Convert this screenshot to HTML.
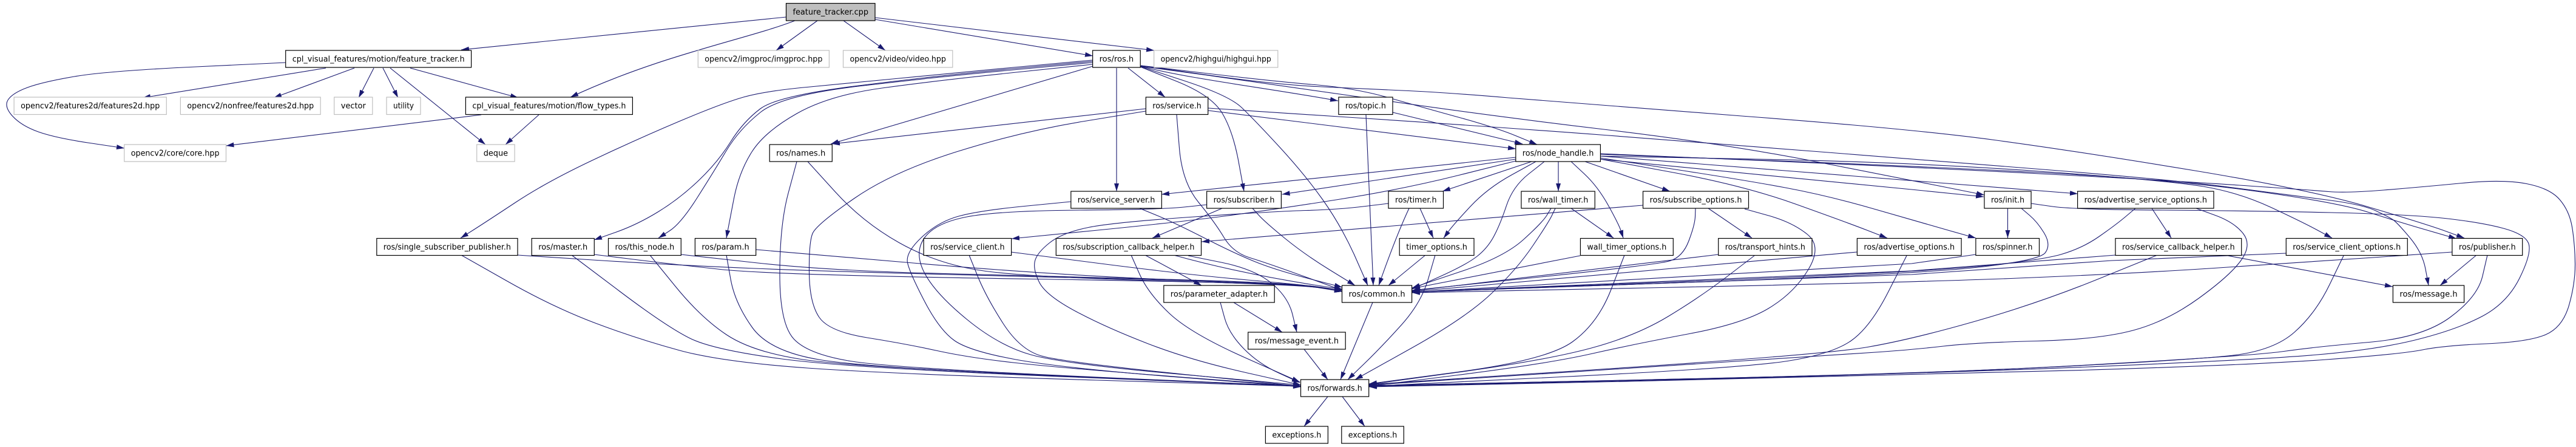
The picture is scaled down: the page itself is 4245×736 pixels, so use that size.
<!DOCTYPE html>
<html><head><meta charset="utf-8"><title>feature_tracker.cpp include graph</title>
<style>html,body{margin:0;padding:0;background:#fff}svg{display:block}
.n rect{fill:#fff;stroke:#000;stroke-width:1.2}
.g rect{fill:#fff;stroke:#bfbfbf;stroke-width:1.2}
text{font-family:"DejaVu Sans","Liberation Sans",sans-serif;font-size:13px;fill:#000}
</style></head><body>
<svg xmlns="http://www.w3.org/2000/svg" width="4245" height="736" viewBox="0 0 4245 736">
<defs><marker id="a" viewBox="0 0 13 8" refX="13" refY="4" markerWidth="13" markerHeight="8" markerUnits="userSpaceOnUse" orient="auto"><path d="M0,0L13,4L0,8z" fill="#191970"/></marker></defs>
<rect width="4245" height="736" fill="#fff"/>
<g fill="none" stroke="#191970" stroke-width="1.1" marker-end="url(#a)">
<path d="M1296,28L760,82"/><path d="M1310,34C1230,65 1090,90 940,160"/><path d="M1347,34L1279,83"/><path d="M1390,34L1459,83"/><path d="M1442,32L1801,92"/><path d="M1442,29L1902,83"/>
<path d="M537,112L235,161"/><path d="M584,112L451,161"/><path d="M616,112L591,161"/><path d="M631,112L656,161"/><path d="M643,112L800,238"/><path d="M676,112L854,161"/><path d="M793,189L372.5,240"/><path d="M888,189L833,238"/>
<path d="M471,103L323,110Q175,117 122.5,126Q70,135 45.5,144Q21,153 13.5,164Q6,175 20.5,191Q35,207 63,217Q91,227 148,235.5L205,244"/>
<path d="M1800,99L1670,111Q1541,123 1471,130Q1401,137 1330,143.5Q1260,150 1225,160Q1190,170 1120,199.5Q1050,229 975,264.5Q900,300 850,333Q800,366 779.5,379L759,392"/>
<path d="M1800,101L1670,113Q1541,125 1411,141.5Q1281,158 1253,179Q1225,200 1204,233.5Q1183,267 1151.5,297Q1120,327 1085,348.5Q1050,370 1014.5,382.5L979,395"/>
<path d="M1800,103L1670,115Q1541,127 1414.5,142Q1288,157 1253,185Q1218,213 1197,248Q1176,283 1149,325.5Q1122,368 1103.5,380L1085,392"/>
<path d="M1800,106L1670,119.5Q1541,133 1453.5,145Q1366,157 1313,187Q1260,217 1239,250Q1218,283 1209.5,326.5Q1201,370 1199,381L1197,392"/>
<path d="M1801,109L1369,237"/><path d="M1840,112L1840,315"/><path d="M1859,112L1920,160"/>
<path d="M1879,110L1938,133.5Q1997,157 2014.5,187Q2032,217 2041,266L2050,315"/>
<path d="M1878,109L1951.5,133Q2025,157 2046,177Q2067,197 2108.5,242Q2150,287 2179.5,328.5Q2209,370 2231.5,419L2254,470"/>
<path d="M1880,109C1960,130 2090,145 2205,166"/>
<path d="M1880,108L1990,121Q2100,134 2166.5,139.5Q2233,145 2289,161Q2345,177 2405,193.5Q2465,210 2499,224L2533,238"/>
<path d="M1880,109L1990,124Q2100,139 2275,164.5Q2450,190 2647,213.5Q2844,237 2997,267Q3150,297 3210,309L3270,321"/>
<path d="M1880,108L1990,123.5Q2100,139 2170,142.5Q2240,146 2310,149Q2380,152 2485.5,161Q2591,170 2870,191Q3150,212 3290,231Q3430,250 3620,281.5Q3809,313 3902,340.5Q3995,368 4028.5,380L4061,392"/>
<path d="M1991,178L2221,193Q2451,208 2644,222.5Q2837,237 2993.5,249.5Q3150,262 3360.5,278.5Q3571,295 3676,308.5Q3781,322 3837.5,329.5Q3894,337 3915,347Q3936,357 3943,361.5Q3950,366 3971,391Q3992,416 3997,443L4002,470"/>
<path d="M1888,179L1371,237"/><path d="M1991,182L2498,245"/><path d="M2295,185L2509,237"/><path d="M2251,189L2263,470"/>
<path d="M2498,259L1914,320"/><path d="M2498,262L2112.6,320"/><path d="M2524,266L2377,315"/><path d="M2568,266L2568,315"/><path d="M2612,266L2752,315"/>
<path d="M2637,254L2893.5,263.5Q3150,273 3360.5,284Q3571,295 3711,314Q3851,333 3903,349.5Q3955,366 4001.5,379.5L4048,393"/>
<path d="M2637,257L2893.5,262Q3150,267 3360.5,282Q3571,297 3630.5,307Q3690,317 3742.5,341.5Q3795,366 3819,379L3843,392"/>
<path d="M2637,253L2893.5,264Q3150,275 3360.5,286Q3571,297 3690,305Q3809,313 3837.5,315.5Q3866,318 3928,313Q3990,308 4057.5,301.5Q4125,295 4163.5,302.5Q4202,310 4218,328.5Q4234,347 4238.5,373.5Q4243,400 4243.5,433Q4244,466 4233.5,502.5Q4223,539 4195,551Q4167,563 4097,566Q4027,569 3992,576Q3957,583 3834,592Q3711,601 3430.5,609.5Q3150,618 2703,627.5L2256,637"/>
<path d="M2637,262L2754.5,283.5Q2872,305 2957.5,335.5Q3043,366 3076.5,379L3110,392"/>
<path d="M2637,260L2754.5,278Q2872,296 2942,309Q3012,322 3088,344Q3164,366 3210,379L3256,392"/>
<path d="M2637,262L3150,312L3269,324"/><path d="M2637,257L3424,319"/>
<path d="M2531,266L2491,288Q2451,310 2423,340Q2395,370 2387,381L2379,392"/>
<path d="M2545,266L2519,286.5Q2493,307 2482.5,338.5Q2472,370 2461.5,389.5Q2451,409 2433.5,422.5Q2416,436 2371.5,456L2327,476"/>
<path d="M2589,266L2611,286.5Q2633,307 2650.5,338.5Q2668,370 2671.5,381L2675,392"/>
<path d="M2498,265L2404,288.5Q2310,312 2205,328.5Q2100,345 2020.5,355.5Q1941,366 1804,379.5L1667,393"/>
<path d="M1888,183L1784.5,200Q1681,217 1576,250Q1471,283 1408,326.5Q1345,370 1339,384.5Q1333,399 1333.5,449Q1334,499 1350,522.5Q1366,546 1429,556Q1492,566 1544.5,577.5Q1597,589 1674,597.5Q1751,606 1947.5,621L2144,636"/>
<path d="M1939,189L1943.5,244.5Q1948,300 1975,333Q2002,366 2017,391Q2032,416 2060,424.5Q2088,433 2150,455.5L2212,478"/>
<path d="M1765,332L1688,339.5Q1611,347 1578,356.5Q1545,366 1518.5,391Q1492,416 1495.5,432.5Q1499,449 1523.5,496Q1548,543 1572.5,560.5Q1597,578 1674,592Q1751,606 1947.5,621.5L2144,637"/>
<path d="M1989,337L1951,341Q1913,345 1779.5,346Q1646,347 1593.5,357Q1541,367 1523.5,391.5Q1506,416 1523.5,449.5Q1541,483 1593.5,526Q1646,569 1698.5,584Q1751,599 1947.5,616.5L2144,634"/>
<path d="M2288,335L2246.5,340Q2205,345 2152.5,346.5Q2100,348 1968,357Q1836,366 1793.5,374.5Q1751,383 1730,399.5Q1709,416 1705.5,429.5Q1702,443 1712.5,464.5Q1723,486 1772.5,512.5Q1822,539 1892,566Q1962,593 2053,613.5L2144,634"/>
<path d="M1878,343L1906,354.5Q1934,366 1983,391Q2032,416 2066,430Q2100,444 2156,458.5L2212,473"/>
<path d="M2064,343L2074.5,354.5Q2085,366 2117.5,392.5Q2150,419 2191.5,444.5L2233,470"/>
<path d="M2014,343L1899,392"/><path d="M2707,338L1980,398"/><path d="M1887,420L1980,470"/><path d="M2033,498L2113,547"/><path d="M2149,575L2188,625"/><path d="M2262,498L2209,625"/><path d="M2188,653L2149,702"/><path d="M2212,653L2249,702"/>
<path d="M2322,343Q2300,390 2272,470"/><path d="M2340,343L2362,392"/><path d="M2349,420L2288,470"/>
<path d="M2815,343L2887,392"/><path d="M3308.5,343L3308.5,392"/><path d="M3546,343L3578,392"/><path d="M3666,420L3943,472"/><path d="M4081,420L4021,470"/><path d="M2589,343L2659,392"/>
<path d="M1666,415L1814,434Q1962,453 2056,461Q2150,469 2181,473.5L2212,478"/>
<path d="M1597,420L1611,454.5Q1625,489 1653,532.5Q1681,576 1716,586Q1751,596 1947.5,616L2144,636"/>
<path d="M1864,420L1878,451.5Q1892,483 1927,516Q1962,549 2052,589L2142,629"/>
<path d="M1934,420Q2060,455 2212,476"/>
<path d="M1958,421L2012.5,432Q2067,443 2095,466Q2123,489 2130,518L2137,547"/>
<path d="M2011,498L2018,523.5Q2025,549 2049.5,574Q2074,599 2108,614.5L2142,630"/>
<path d="M2556,343L2549,354.5Q2542,366 2510.5,394.5Q2479,423 2410.5,446L2327,474"/>
<path d="M2563,343L2557.5,354.5Q2552,366 2526,404.5Q2500,443 2458,483Q2416,523 2324.5,574L2233,625"/>
<path d="M2365,420L2353.5,459.5Q2342,499 2308.5,536Q2275,573 2248,599L2221,625"/>
<path d="M2604,421L2327,475"/>
<path d="M2677,420L2655,476.5Q2633,533 2591,563Q2549,593 2402.5,612.5L2256,632"/>
<path d="M2794,343L2793.5,356.5Q2793,370 2783,396.5Q2773,423 2752,429.5Q2731,436 2529,457L2327,478"/>
<path d="M2875,344L2914.5,355Q2954,366 2978.5,386Q3003,406 2979.5,444.5Q2956,483 2914,508Q2872,533 2784,549.5Q2696,566 2622.5,582.5Q2549,599 2402.5,617.5L2256,636"/>
<path d="M2832,419L2327,479"/>
<path d="M2891,421L2846.5,455Q2802,489 2749,521Q2696,553 2622.5,573Q2549,593 2402.5,613L2256,633"/>
<path d="M3060,415L2327,480"/>
<path d="M3142,421L3112,480Q3082,539 3050.5,561Q3019,583 2945.5,594.5Q2872,606 2564,621L2256,636"/>
<path d="M3256,419L3150,434L2327,481"/>
<path d="M3519,343L3503,356.5Q3487,370 3459,389.5Q3431,409 3396,419Q3361,429 3255.5,439Q3150,449 2738.5,465L2327,481"/>
<path d="M3619,343L3650.5,354.5Q3682,366 3696.5,384.5Q3711,403 3693.5,428Q3676,453 3623.5,491Q3571,529 3515,544Q3459,559 3357,561.5Q3255,564 3202.5,570Q3150,576 3098.5,579.5Q3047,583 2651.5,608.5L2256,634"/>
<path d="M3486,420L3150,446L2327,481"/>
<path d="M3555,420L3457.5,459.5Q3360,499 3255,529Q3150,559 3077.5,571.5Q3005,584 2630.5,608.5L2256,633"/>
<path d="M3331,343L3344.5,354.5Q3358,366 3369,384.5Q3380,403 3370.5,416Q3361,429 3255.5,440.5Q3150,452 2738.5,466.5L2327,481"/>
<path d="M3347,335L3382,340Q3417,345 3564,346Q3711,347 3841,350Q3971,353 4029,359.5Q4087,366 4123.5,375.5Q4160,385 4166.5,400Q4173,415 4152.5,457Q4132,499 4090,521Q4048,543 3981.5,559.5Q3915,576 3813,584.5Q3711,593 3430.5,604.5Q3150,616 2703,625.5L2256,635"/>
<path d="M3767,417L3480,429L3150,452L2327,481"/>
<path d="M3862,421L3839,468.5Q3816,516 3781,547Q3746,578 3676,585.5Q3606,593 3378,604.5Q3150,616 2703,625.5L2256,635"/>
<path d="M4041,415L3911,424Q3781,433 3641,442Q3501,451 3325.5,458Q3150,465 2738.5,473.5L2327,482"/>
<path d="M4099,420L4091,454.5Q4083,489 4037.5,522.5Q3992,556 3904,563.5Q3816,571 3763.5,578.5Q3711,586 3430.5,601.5Q3150,617 2703,626.5L2256,636"/>
<path d="M1331,266L1376.5,316Q1422,366 1481.5,399.5Q1541,433 1611,444.5Q1681,456 1915.5,462.5Q2150,469 2181,474.5L2212,480"/>
<path d="M853,420L976.5,428Q1100,436 1243.5,442Q1387,448 1762,457Q2137,466 2174.5,473L2212,480"/>
<path d="M979,419L1039.5,426.5Q1100,434 1187,443.5Q1274,453 1705.5,459.5Q2137,466 2174.5,473L2212,480"/>
<path d="M1122,419L1244,432.5Q1366,446 1558.5,450.5Q1751,455 1944,460.5Q2137,466 2174.5,473L2212,480"/>
<path d="M1246,411L1498.5,432.5Q1751,454 1944,461Q2137,468 2174.5,474L2212,480"/>
<path d="M760,420L836,463Q912,506 981,532Q1050,558 1120,577Q1190,596 1330.5,606Q1471,616 1807.5,626L2144,636"/>
<path d="M942,420L1021,479.5Q1100,539 1138,557.5Q1176,576 1288.5,591Q1401,606 1772.5,621L2144,636"/>
<path d="M1071,420L1113,471.5Q1155,523 1197,551Q1239,579 1320,591.5Q1401,604 1772.5,620L2144,636"/>
<path d="M1197,420L1204,459.5Q1211,499 1239.5,539Q1268,579 1352,592.5Q1436,606 1790,621L2144,636"/>
<path d="M1313,266L1299,318Q1285,370 1285,451.5Q1285,533 1308,558Q1331,583 1401,594.5Q1471,606 1807.5,621L2144,636"/>
</g>
<g class="n">
<rect x="1295.5" y="5.5" width="146.5" height="28.5" style="fill:#bfbfbf"/><text x="1306.5" y="24" textLength="124.5" lengthAdjust="spacingAndGlyphs">feature_tracker.cpp</text>
<rect x="470.7" y="83" width="305.9" height="28"/><text x="481.7" y="101.5" textLength="283.9" lengthAdjust="spacingAndGlyphs">cpl_visual_features/motion/feature_tracker.h</text>
<rect x="1800.6" y="83" width="78.6" height="28"/><text x="1811.6" y="101.5" textLength="56.6" lengthAdjust="spacingAndGlyphs">ros/ros.h</text>
<rect x="767.4" y="160" width="275" height="28.5"/><text x="778.4" y="178.5" textLength="253" lengthAdjust="spacingAndGlyphs">cpl_visual_features/motion/flow_types.h</text>
<rect x="1888.3" y="160" width="102.4" height="28.5"/><text x="1899.3" y="178.5" textLength="80.4" lengthAdjust="spacingAndGlyphs">ros/service.h</text>
<rect x="2205.9" y="160" width="89.1" height="28.5"/><text x="2216.9" y="178.5" textLength="67.1" lengthAdjust="spacingAndGlyphs">ros/topic.h</text>
<rect x="1268.2" y="238" width="103.1" height="28"/><text x="1279.2" y="256.5" textLength="81.1" lengthAdjust="spacingAndGlyphs">ros/names.h</text>
<rect x="2497.8" y="238" width="139.6" height="28"/><text x="2508.8" y="256.5" textLength="117.6" lengthAdjust="spacingAndGlyphs">ros/node_handle.h</text>
<rect x="1764.8" y="315" width="149.5" height="28"/><text x="1775.8" y="333.5" textLength="127.5" lengthAdjust="spacingAndGlyphs">ros/service_server.h</text>
<rect x="1988.6" y="315" width="122.8" height="28"/><text x="1999.6" y="333.5" textLength="100.8" lengthAdjust="spacingAndGlyphs">ros/subscriber.h</text>
<rect x="2288" y="315" width="90.5" height="28"/><text x="2299" y="333.5" textLength="68.5" lengthAdjust="spacingAndGlyphs">ros/timer.h</text>
<rect x="2506.9" y="315" width="121.3" height="28"/><text x="2517.9" y="333.5" textLength="99.3" lengthAdjust="spacingAndGlyphs">ros/wall_timer.h</text>
<rect x="2707.5" y="315" width="174" height="28"/><text x="2718.5" y="333.5" textLength="152" lengthAdjust="spacingAndGlyphs">ros/subscribe_options.h</text>
<rect x="3270" y="315" width="77.1" height="28"/><text x="3281" y="333.5" textLength="55.1" lengthAdjust="spacingAndGlyphs">ros/init.h</text>
<rect x="3423.6" y="315" width="224.4" height="28"/><text x="3434.6" y="333.5" textLength="202.4" lengthAdjust="spacingAndGlyphs">ros/advertise_service_options.h</text>
<rect x="620.8" y="392.5" width="232.2" height="28"/><text x="631.8" y="411" textLength="210.2" lengthAdjust="spacingAndGlyphs">ros/single_subscriber_publisher.h</text>
<rect x="876.2" y="392.5" width="103.1" height="28"/><text x="887.2" y="411" textLength="81.1" lengthAdjust="spacingAndGlyphs">ros/master.h</text>
<rect x="1002.5" y="392.5" width="119.8" height="28"/><text x="1013.5" y="411" textLength="97.8" lengthAdjust="spacingAndGlyphs">ros/this_node.h</text>
<rect x="1145.4" y="392.5" width="100.3" height="28"/><text x="1156.4" y="411" textLength="78.3" lengthAdjust="spacingAndGlyphs">ros/param.h</text>
<rect x="1522.1" y="392.5" width="144.5" height="28"/><text x="1533.1" y="411" textLength="122.5" lengthAdjust="spacingAndGlyphs">ros/service_client.h</text>
<rect x="1740.3" y="392.5" width="239.2" height="28"/><text x="1751.3" y="411" textLength="217.2" lengthAdjust="spacingAndGlyphs">ros/subscription_callback_helper.h</text>
<rect x="2306.2" y="392.5" width="122.8" height="28"/><text x="2317.2" y="411" textLength="100.8" lengthAdjust="spacingAndGlyphs">timer_options.h</text>
<rect x="2604.4" y="392.5" width="152.9" height="28"/><text x="2615.4" y="411" textLength="130.9" lengthAdjust="spacingAndGlyphs">wall_timer_options.h</text>
<rect x="2831.7" y="392.5" width="154.3" height="28"/><text x="2842.7" y="411" textLength="132.3" lengthAdjust="spacingAndGlyphs">ros/transport_hints.h</text>
<rect x="3060.4" y="392.5" width="171.7" height="28"/><text x="3071.4" y="411" textLength="149.7" lengthAdjust="spacingAndGlyphs">ros/advertise_options.h</text>
<rect x="3255.9" y="392.5" width="104.6" height="28"/><text x="3266.9" y="411" textLength="82.6" lengthAdjust="spacingAndGlyphs">ros/spinner.h</text>
<rect x="3486" y="392.5" width="207.7" height="28"/><text x="3497" y="411" textLength="185.7" lengthAdjust="spacingAndGlyphs">ros/service_callback_helper.h</text>
<rect x="3767.3" y="392.5" width="200" height="28"/><text x="3778.3" y="411" textLength="178" lengthAdjust="spacingAndGlyphs">ros/service_client_options.h</text>
<rect x="4040.9" y="392.5" width="115.8" height="28"/><text x="4051.9" y="411" textLength="93.8" lengthAdjust="spacingAndGlyphs">ros/publisher.h</text>
<rect x="1917.8" y="470" width="182.4" height="28"/><text x="1928.8" y="488.5" textLength="160.4" lengthAdjust="spacingAndGlyphs">ros/parameter_adapter.h</text>
<rect x="2211.5" y="470" width="115.1" height="28"/><text x="2222.5" y="488.5" textLength="93.1" lengthAdjust="spacingAndGlyphs">ros/common.h</text>
<rect x="3943.4" y="470" width="117.2" height="28"/><text x="3954.4" y="488.5" textLength="95.2" lengthAdjust="spacingAndGlyphs">ros/message.h</text>
<rect x="2056.7" y="547" width="160.5" height="28"/><text x="2067.7" y="565.5" textLength="138.5" lengthAdjust="spacingAndGlyphs">ros/message_event.h</text>
<rect x="2143.5" y="625" width="112.2" height="28"/><text x="2154.5" y="643.5" textLength="90.2" lengthAdjust="spacingAndGlyphs">ros/forwards.h</text>
<rect x="2085.4" y="702" width="103" height="28"/><text x="2096.4" y="720.5" textLength="81" lengthAdjust="spacingAndGlyphs">exceptions.h</text>
<rect x="2210.8" y="702" width="102.5" height="28"/><text x="2221.8" y="720.5" textLength="80.5" lengthAdjust="spacingAndGlyphs">exceptions.h</text>
</g>
<g class="g">
<rect x="1150.3" y="83" width="216.1" height="28"/><text x="1161.3" y="101.5" textLength="194.1" lengthAdjust="spacingAndGlyphs">opencv2/imgproc/imgproc.hpp</text>
<rect x="1389.5" y="83" width="180.3" height="28"/><text x="1400.5" y="101.5" textLength="158.3" lengthAdjust="spacingAndGlyphs">opencv2/video/video.hpp</text>
<rect x="1901.6" y="83" width="204.2" height="28"/><text x="1912.6" y="101.5" textLength="182.2" lengthAdjust="spacingAndGlyphs">opencv2/highgui/highgui.hpp</text>
<rect x="23.1" y="160" width="251.2" height="28.5"/><text x="34.1" y="178.5" textLength="229.2" lengthAdjust="spacingAndGlyphs">opencv2/features2d/features2d.hpp</text>
<rect x="297.4" y="160" width="230.8" height="28.5"/><text x="308.4" y="178.5" textLength="208.8" lengthAdjust="spacingAndGlyphs">opencv2/nonfree/features2d.hpp</text>
<rect x="550.7" y="160" width="63.1" height="28.5"/><text x="561.7" y="178.5" textLength="41.1" lengthAdjust="spacingAndGlyphs">vector</text>
<rect x="637" y="160" width="56" height="28.5"/><text x="648" y="178.5" textLength="34" lengthAdjust="spacingAndGlyphs">utility</text>
<rect x="204.8" y="238" width="167.7" height="28"/><text x="215.8" y="256.5" textLength="145.7" lengthAdjust="spacingAndGlyphs">opencv2/core/core.hpp</text>
<rect x="785.7" y="238" width="62.4" height="28"/><text x="796.7" y="256.5" textLength="40.4" lengthAdjust="spacingAndGlyphs">deque</text>
</g>
</svg>
</body></html>
